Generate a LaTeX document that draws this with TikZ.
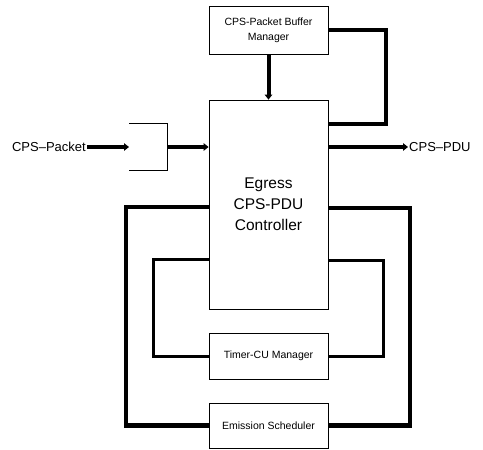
\documentclass[tikz,border=0pt]{standalone}
\usepackage{fontspec}
\setmainfont{Liberation Sans}
\usetikzlibrary{arrows.meta}

\begin{document}
\begin{tikzpicture}[x=1pt,y=-1pt,
    blk/.style={draw,line width=0.8pt,minimum width=119pt,inner sep=0pt,align=center,
      font=\fontsize{10.5}{15}\selectfont},
    lbl/.style={inner sep=1pt,font=\fontsize{13}{15}\selectfont},
    bus/.style={line width=4pt},
    arr/.style={-{Triangle[length=5pt,width=7.5pt]}}]
    \useasboundingbox (0,0) rectangle (483,450);

    \node[blk,minimum height=48pt] (buf) at (268.5,30) {CPS-Packet Buffer\\Manager};
    \node[blk,minimum height=209pt,font=\fontsize{15.5}{21}\selectfont] (ctrl) at (268.5,204.5)
      {Egress\\CPS-PDU\\Controller};
    \node[blk,minimum height=46pt] (timer) at (268.5,356) {Timer-CU Manager};
    \node[blk,minimum height=45pt] (emis) at (268.5,425.5) {Emission Scheduler};

    \node[lbl,anchor=east] (pin) at (87,147) {CPS--Packet};
    \node[lbl,anchor=west] (pout) at (408,147) {CPS--PDU};

    % input bracket
    \coordinate (brk) at (129,147);
    \coordinate (brkr) at (167,147);
    \draw[line width=0.8pt] (129,123) -| (167,170) -- (129,170);
    \draw[bus,arr] (pin.east) -- (brk);
    \draw[bus,arr] (brkr) -- (ctrl.west |- brkr);
    \draw[bus,arr] (ctrl.east |- pout) -- (pout.west);

    % buffer manager
    \draw[bus,arr] (buf.south) -- (ctrl.north);
    \coordinate (fb) at (386,124);
    \draw[line width=3.5pt] (buf.east) -| (fb) -- (fb -| ctrl.east);

    % timer loop
    \coordinate (il) at (153,259);
    \coordinate (ir) at (383,260);
    \draw[line width=3pt] (il -| ctrl.west) -- (il) |- (timer.west);
    \draw[line width=3pt] (ir -| ctrl.east) -- (ir) |- (timer.east);

    % scheduler loop
    \coordinate (ol) at (126,207);
    \coordinate (or) at (410,208);
    \draw[line width=4.5pt] (ol -| ctrl.west) -- (ol) |- (emis.west);
    \draw[line width=4.5pt] (or -| ctrl.east) -- (or) |- (emis.east);
  \end{tikzpicture}
\end{document}
